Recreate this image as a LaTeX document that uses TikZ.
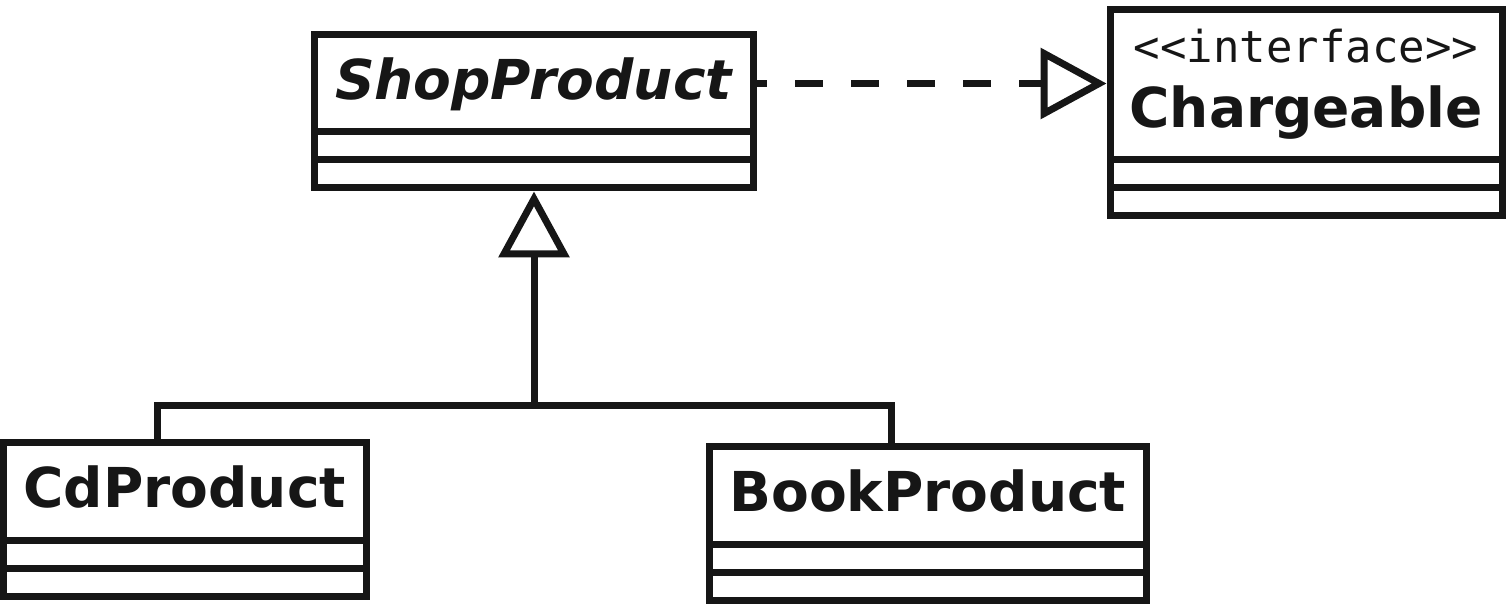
\documentclass[tikz,border=0pt]{standalone}
\usepackage{fontspec}
\setmainfont{DejaVu Sans}
\setmonofont{DejaVu Sans Mono}
\usetikzlibrary{positioning,arrows.meta}

\definecolor{umlink}{HTML}{161616}
\newcommand\classfont{\fontsize{27.5pt}{32.5pt}\selectfont\bfseries}

\tikzset{
  classname/.style={draw=umlink, text=umlink, line width=3.5pt, inner sep=0pt,
    font=\classfont, text height=16pt, text depth=0pt},
  compartment/.style={draw=umlink, line width=3.5pt, inner sep=0pt, minimum height=14pt},
  umlline/.style={draw=umlink, line width=3.5pt},
  realizes/.style={umlline, dash pattern=on 14pt off 14pt, dash phase=8.75pt,
    -{Triangle[open, length=33pt, width=35pt]}},
  inherits/.style={umlline, -{Triangle[open, length=33pt, width=35pt]}}
}

\begin{document}
\begin{tikzpicture}[x=0.5pt, y=0.5pt]
\useasboundingbox (0,0) rectangle (1509,604);

    \node[classname, font=\classfont\itshape, minimum width=219.5pt, minimum height=48.5pt]
        (shop-name) at (533.5,520.5) {ShopProduct};
    \node[classname, align=center, text height=43pt, text depth=0pt,
        minimum width=196pt, minimum height=75pt]
        (charge-name) at (1306,519) {{\ttfamily\mdseries\fontsize{22pt}{32.5pt}\selectfont <<interface>>}\\Chargeable};
    \node[classname, minimum width=181.25pt, minimum height=49pt]
        (cd-name) at (184.75,112) {CdProduct};
    \node[classname, minimum width=218.75pt, minimum height=48.75pt]
        (book-name) at (927.75,108.25) {BookProduct};

% attribute and operation compartments
\foreach \c/\w in {shop/219.5pt, charge/196pt, cd/181.25pt, book/218.75pt}
{
    \node[compartment, minimum width=\w, below=-3.5pt of \c-name] (\c-attr) {};
    \node[compartment, minimum width=\w, below=-3.5pt of \c-attr] (\c-ops) {};
}

\coordinate (fork) at (534,198.5);
\coordinate (cd-drop) at (157,198.5);
\coordinate (book-drop) at (891.5,198.5);

\draw[umlline] (cd-drop |- cd-name.north) -- (cd-drop) -- (book-drop) -- (book-drop |- book-name.north);
\draw[inherits] (fork) -- (fork |- shop-ops.south);
\draw[realizes] (shop-name.east) -- (shop-name.east -| charge-name.west);
\end{tikzpicture}
\end{document}
